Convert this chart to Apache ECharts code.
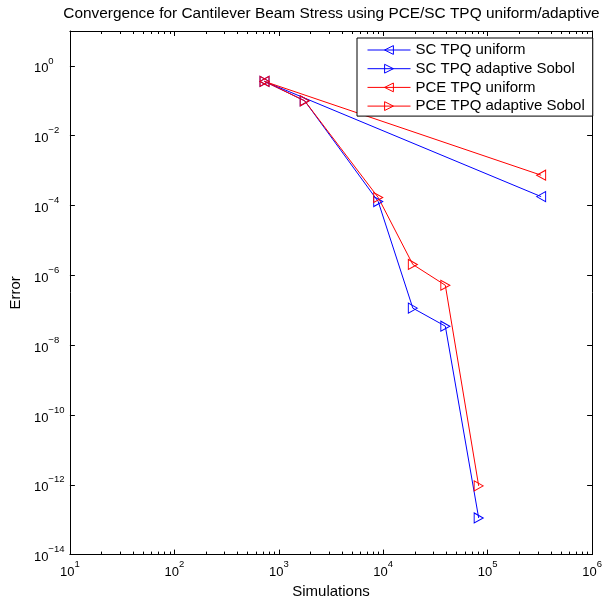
<!DOCTYPE html>
<html>
<head>
<meta charset="utf-8">
<script src="https://cdn.jsdelivr.net/npm/echarts@6/dist/echarts.min.js"></script>
<style>
  html, body { margin: 0; padding: 0; background: #fff; }
  #chart { width: 605px; height: 604px; }
</style>
</head>
<body>
<div id="chart"></div>
<script>
// Convergence data: number of simulations vs. error
const scUniformSims = [730, 325000];
const scUniformErr = [0.36, 1.8e-4];

const scAdaptiveSims = [730, 1770, 8950, 19200, 39300, 82000];
const scAdaptiveErr = [0.36, 0.10, 1.3e-4, 1.15e-7, 3.5e-8, 1.12e-13];

const pceUniformSims = [730, 325000];
const pceUniformErr = [0.36, 7.4e-4];

const pceAdaptiveSims = [730, 1770, 8950, 19200, 39300, 82000];
const pceAdaptiveErr = [0.36, 0.10, 1.7e-4, 2.05e-6, 5.2e-7, 0.93e-12];

const seriesNames = ['SC TPQ uniform', 'SC TPQ adaptive Sobol', 'PCE TPQ uniform', 'PCE TPQ adaptive Sobol'];
const seriesColors = ['#0000ff', '#0000ff', '#ff0000', '#ff0000'];

const X_MIN = 1e1, X_MAX = 1e6;
const Y_MIN = 1e-14, Y_MAX = 1e1;

const FONT = 'Liberation Sans, Arial, Helvetica, sans-serif';

// minor log ticks (2..9 within each decade) for the x axis
const xMinorTicks = [];
for (let k = 1; k < 6; k++) {
  for (let d = 2; d <= 9; d++) xMinorTicks.push([d * Math.pow(10, k), Y_MIN]);
}

const pair = (xs, ys) => xs.map((x, i) => [x, ys[i]]);

function powLabel(v) {
  const e = Math.round(Math.log10(v));
  return '{b|10}{e|' + (e < 0 ? '\u2212' + (-e) : e) + '}';
}
const labelRich = {
  b: { fontSize: 13, fontFamily: FONT, color: '#000', padding: [6, 0, 0, 0] },
  e: { fontSize: 9.5, fontFamily: FONT, color: '#000', padding: [0, 0, 10, 0] }
};

const HOLLOW = 'rgba(255,255,255,0)';

function lineSeries(idx, data, rotate) {
  const color = seriesColors[idx];
  return {
    name: seriesNames[idx],
    type: 'line',
    data: data,
    xAxisIndex: 0,
    yAxisIndex: 0,
    symbol: 'triangle',
    symbolSize: [10, 9],
    symbolRotate: rotate,
    showAllSymbol: true,
    lineStyle: { color: color, width: 1 },
    itemStyle: { color: HOLLOW, borderColor: color, borderWidth: 1 },
    emphasis: { disabled: true },
    animation: false
  };
}

const axisCommon = {
  axisLine: { show: true, lineStyle: { color: '#000', width: 1 } },
  axisTick: { show: true, inside: true, length: 5, lineStyle: { color: '#000' } },
  splitLine: { show: false },
  minorTick: { show: false },
  minorSplitLine: { show: false }
};

const chart = echarts.init(document.getElementById('chart'), null, { renderer: 'canvas' });

chart.setOption({
  backgroundColor: '#fff',
  animation: false,
  graphic: [{
    type: 'text',
    x: 331.5,
    y: 14,
    style: {
      text: 'Convergence for Cantilever Beam Stress using PCE/SC TPQ uniform/adaptive',
      font: '15.4px ' + FONT,
      fill: '#000',
      align: 'center',
      verticalAlign: 'middle'
    }
  }],
  grid: { left: 68, right: 10, top: 31, bottom: 47, containLabel: false },
  legend: {
    data: seriesNames.map((n, i) => ({
      name: n,
      itemStyle: { color: HOLLOW, borderColor: seriesColors[i], borderWidth: 1 },
      lineStyle: { color: seriesColors[i], width: 1 }
    })),
    orient: 'vertical',
    left: 357,
    top: 38,
    backgroundColor: '#fff',
    borderColor: '#000',
    borderWidth: 1,
    padding: [4.5, 8, 2.5, 10],
    itemWidth: 43,
    itemHeight: 11,
    itemGap: 3.7,
    textStyle: { fontSize: 15, fontFamily: FONT, color: '#000' },
    selectedMode: false
  },
  xAxis: [
    Object.assign({
      type: 'log', logBase: 10, min: X_MIN, max: X_MAX, position: 'bottom',
      name: 'Simulations', nameLocation: 'middle', nameGap: 29,
      nameTextStyle: { fontSize: 15, fontFamily: FONT, color: '#000' },
      axisLabel: { show: true, formatter: powLabel, rich: labelRich, margin: 5 }
    }, axisCommon),
    Object.assign({
      type: 'log', logBase: 10, min: X_MIN, max: X_MAX, position: 'top',
      axisLabel: { show: false }
    }, axisCommon)
  ],
  yAxis: [
    Object.assign({
      type: 'log', logBase: 10, min: Y_MIN, max: Y_MAX, interval: 2, position: 'left',
      name: 'Error', nameLocation: 'middle', nameGap: 42,
      nameTextStyle: { fontSize: 15, fontFamily: FONT, color: '#000' },
      axisLabel: { show: true, formatter: powLabel, rich: labelRich, align: 'left', margin: 36, showMaxLabel: false }
    }, axisCommon),
    Object.assign({
      type: 'log', logBase: 10, min: Y_MIN, max: Y_MAX, interval: 2, position: 'right',
      axisLabel: { show: false }
    }, axisCommon)
  ],
  series: [
    lineSeries(0, pair(scUniformSims, scUniformErr), 90),
    lineSeries(1, pair(scAdaptiveSims, scAdaptiveErr), -90),
    lineSeries(2, pair(pceUniformSims, pceUniformErr), 90),
    lineSeries(3, pair(pceAdaptiveSims, pceAdaptiveErr), -90),
    {
      // minor ticks on the bottom and top x axes
      type: 'custom',
      name: 'xMinor',
      xAxisIndex: 0,
      yAxisIndex: 0,
      data: xMinorTicks,
      silent: true,
      clip: false,
      renderItem: function (params, api) {
        const v = api.value(0);
        const b = api.coord([v, Y_MIN]);
        const t = api.coord([v, Y_MAX]);
        const x = Math.round(b[0]) + 0.5;
        return {
          type: 'group',
          children: [
            { type: 'line', shape: { x1: x, y1: b[1], x2: x, y2: b[1] - 3 }, style: { stroke: '#000', lineWidth: 1 } },
            { type: 'line', shape: { x1: x, y1: t[1], x2: x, y2: t[1] + 3 }, style: { stroke: '#000', lineWidth: 1 } }
          ]
        };
      }
    }
  ]
});
</script>
</body>
</html>
